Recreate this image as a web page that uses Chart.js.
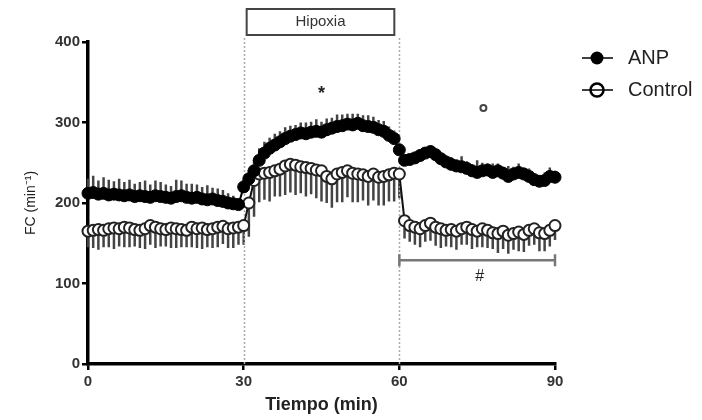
<!DOCTYPE html>
<html>
<head>
<meta charset="utf-8">
<script src="https://cdn.jsdelivr.net/npm/chart.js@4.4.1/dist/chart.umd.min.js"></script>
<style>
  html, body { margin: 0; padding: 0; background: #fff; }
  #wrap { width: 702px; height: 420px; position: relative; }
</style>
</head>
<body>
<div id="wrap"><canvas id="fcChart" width="702" height="420"></canvas></div>
<script>
// minutes 0..90, one point per minute
const minutes = [];
for (let m = 0; m <= 90; m++) minutes.push(m);

const anpMean = [
  212, 213, 211, 212, 210, 211, 210, 209, 210, 208,
  209, 208, 207, 209, 208, 207, 206, 208, 209, 207,
  206, 207, 205, 204, 205, 203, 202, 200, 199, 198,
  220, 230, 240, 253, 262, 268, 272, 276, 280, 283,
  285, 287, 286, 288, 289, 288, 291, 293, 295, 296,
  298, 297, 299, 296, 295, 294, 291, 289, 284, 280,
  266, 253, 254, 256, 259, 262, 264, 260, 255, 251,
  248, 246, 245, 243, 240, 238, 240, 241, 238, 240,
  237, 233, 236, 238, 236, 233, 229, 227, 228, 233,
  232
];
const anpSem = [
  18, 21, 17, 20, 19, 16, 20, 17, 19, 16,
  17, 20, 16, 19, 18, 16, 15, 21, 19, 17,
  18, 16, 15, 18, 14, 15, 14, 12, 10, 8,
  9, 11, 13, 15, 14, 13, 14, 13, 14, 13,
  12, 13, 14, 13, 15, 13, 14, 13, 15, 14,
  13, 14, 12, 13, 14, 13, 12, 13, 11, 10,
  8, 6, 7, 6, 7, 6, 7, 8, 7, 8,
  9, 8, 13, 9, 8, 15, 10, 8, 11, 9,
  8, 13, 9, 11, 8, 10, 8, 7, 10, 11,
  8
];
const ctrlMean = [
  165, 166, 167, 166, 168, 169, 168, 170, 169, 167,
  166, 168, 172, 170, 168, 167, 169, 168, 167, 166,
  170, 168, 169, 167, 168, 170, 171, 168, 169, 170,
  172, 200, 228, 236, 237, 238, 240, 242, 246, 248,
  247, 245, 244, 243, 241, 240, 233, 230, 236, 238,
  240, 237, 236, 235, 233, 236, 232, 233, 235, 237,
  236, 178, 172, 170, 168, 172, 175, 170, 168, 166,
  167, 165, 168, 170, 167, 165, 168, 166, 163, 162,
  165, 160, 162, 164, 161, 166, 168, 163, 162, 166,
  172
];
const ctrlSem = [
  20, 22, 25, 21, 23, 26, 22, 25, 24, 21,
  22, 25, 24, 26, 22, 21, 25, 24, 22, 21,
  25, 24, 26, 22, 24, 25, 22, 24, 25, 22,
  24, 42, 45, 35, 33, 36, 32, 34, 36, 35,
  37, 33, 36, 32, 35, 38, 33, 36, 35, 37,
  33, 36, 35, 32, 36, 33, 35, 36, 33, 35,
  30, 22, 20, 22, 23, 20, 22, 23, 24, 20,
  22, 23, 20, 22, 24, 20, 23, 22, 20, 24,
  22, 23, 20, 24, 22, 19, 20, 23, 22, 20,
  18
];

const yTicks = [0, 100, 200, 300, 400];
const xTicks = [0, 30, 60, 90];
const hypoxia = [30, 60];

const FONT = 'Arial, "Liberation Sans", sans-serif';

function toXY(ys) {
  return minutes.map((m, i) => ({ x: m, y: ys[i] }));
}

// error bars: ANP drawn up, Control drawn down
const errorBars = {
  id: 'errorBars',
  beforeDatasetsDraw(chart) {
    const { ctx, scales: { x, y } } = chart;
    ctx.save();
    ctx.strokeStyle = '#444';
    ctx.lineWidth = 2.5;
    ctx.beginPath();
    minutes.forEach((m, i) => {
      const px = x.getPixelForValue(m);
      ctx.moveTo(px, y.getPixelForValue(anpMean[i]));
      ctx.lineTo(px, y.getPixelForValue(anpMean[i] + anpSem[i]));
      ctx.moveTo(px, y.getPixelForValue(ctrlMean[i]));
      ctx.lineTo(px, y.getPixelForValue(ctrlMean[i] - ctrlSem[i]));
    });
    ctx.stroke();
    ctx.restore();
  }
};

// hypoxia box, dotted lines, significance marks, legend
const extras = {
  id: 'extras',
  beforeDatasetsDraw(chart) {
    const { ctx, chartArea, scales: { x } } = chart;
    ctx.save();
    ctx.strokeStyle = '#aaa';
    ctx.lineWidth = 1.5;
    ctx.setLineDash([2, 2]);
    hypoxia.forEach(v => {
      const px = Math.round(x.getPixelForValue(v)) + 0.5;
      ctx.beginPath();
      ctx.moveTo(px, 38);
      ctx.lineTo(px, chartArea.bottom);
      ctx.stroke();
    });
    ctx.restore();
  },
  afterDraw(chart) {
    const { ctx, scales: { x, y } } = chart;
    ctx.save();
    // Hipoxia box
    const bx0 = x.getPixelForValue(hypoxia[0]) + 3;
    const bx1 = x.getPixelForValue(hypoxia[1]) - 5;
    ctx.strokeStyle = '#444';
    ctx.lineWidth = 2;
    ctx.strokeRect(bx0, 9, bx1 - bx0, 26);
    ctx.fillStyle = '#333';
    ctx.font = '15px ' + FONT;
    ctx.textAlign = 'center';
    ctx.textBaseline = 'middle';
    ctx.fillText('Hipoxia', (bx0 + bx1) / 2, 22);

    // significance marks
    ctx.fillStyle = '#222';
    ctx.font = 'bold 18px ' + FONT;
    ctx.fillText('*', x.getPixelForValue(45), y.getPixelForValue(335));
    ctx.strokeStyle = '#444';
    ctx.lineWidth = 2;
    ctx.beginPath();
    ctx.arc(x.getPixelForValue(76.2), y.getPixelForValue(318), 3, 0, Math.PI * 2);
    ctx.stroke();

    // bracket with #
    const gx0 = x.getPixelForValue(60), gx1 = x.getPixelForValue(90);
    const gy = y.getPixelForValue(129);
    ctx.strokeStyle = '#777';
    ctx.lineWidth = 2.5;
    ctx.beginPath();
    ctx.moveTo(gx0, gy); ctx.lineTo(gx1, gy);
    ctx.moveTo(gx0, gy - 6); ctx.lineTo(gx0, gy + 6);
    ctx.moveTo(gx1, gy - 6); ctx.lineTo(gx1, gy + 6);
    ctx.stroke();
    ctx.fillStyle = '#222';
    ctx.font = '16px ' + FONT;
    ctx.fillText('#', x.getPixelForValue(75.5), gy + 16);

    // legend
    const items = [
      { label: 'ANP', fill: true, yy: 58 },
      { label: 'Control', fill: false, yy: 90 }
    ];
    items.forEach(it => {
      ctx.strokeStyle = '#000';
      ctx.lineWidth = 1.5;
      ctx.beginPath();
      ctx.moveTo(582, it.yy); ctx.lineTo(613, it.yy);
      ctx.stroke();
      ctx.beginPath();
      ctx.arc(597, it.yy, 6.5, 0, Math.PI * 2);
      if (it.fill) { ctx.fillStyle = '#000'; ctx.fill(); }
      else { ctx.lineWidth = 2.5; ctx.stroke(); }
      ctx.fillStyle = '#222';
      ctx.font = '20px ' + FONT;
      ctx.textAlign = 'left';
      ctx.fillText(it.label, 628, it.yy);
    });
    ctx.restore();
  }
};

const ctx = document.getElementById('fcChart').getContext('2d');
const fcChart = new Chart(ctx, {
  type: 'line',
  data: {
    datasets: [
      {
        label: 'ANP',
        data: toXY(anpMean),
        borderColor: '#000',
        borderWidth: 2,
        backgroundColor: '#000',
        pointBackgroundColor: '#000',
        pointBorderColor: '#000',
        pointRadius: 6,
        pointBorderWidth: 1,
        tension: 0,
        clip: false
      },
      {
        label: 'Control',
        data: toXY(ctrlMean),
        borderColor: '#111',
        borderWidth: 2,
        pointBackgroundColor: '#fff',
        pointBorderColor: '#222',
        pointRadius: 5.5,
        pointBorderWidth: 2,
        tension: 0,
        clip: false
      }
    ]
  },
  options: {
    responsive: false,
    animation: false,
    layout: { padding: { top: 42, right: 147, left: 0, bottom: 0 } },
    plugins: {
      legend: { display: false },
      tooltip: { enabled: false }
    },
    scales: {
      x: {
        type: 'linear',
        min: 0,
        max: 90,
        afterBuildTicks: s => { s.ticks = xTicks.map(v => ({ value: v })); },
        afterFit: s => { s.height = 56; },
        grid: { drawOnChartArea: false, color: '#000', lineWidth: 2.5, tickLength: 6 },
        border: { color: '#000', width: 3.5 },
        ticks: { color: '#333', font: { family: FONT, size: 15, weight: 'bold' }, padding: 3 },
        title: { display: true, text: 'Tiempo (min)', color: '#222', font: { family: FONT, size: 18, weight: 'bold' }, padding: { top: 4 } }
      },
      y: {
        min: 0,
        max: 400,
        afterBuildTicks: s => { s.ticks = yTicks.map(v => ({ value: v })); },
        afterFit: s => { s.width = 88; },
        grid: { drawOnChartArea: false, color: '#000', lineWidth: 2.5, tickLength: 6 },
        border: { color: '#000', width: 3.5 },
        ticks: { color: '#333', font: { family: FONT, size: 15, weight: 'bold' }, padding: 2 },
        title: { display: true, text: 'FC (min⁻¹)', color: '#222', font: { family: FONT, size: 14 }, padding: { top: 23 } }
      }
    }
  },
  plugins: [errorBars, extras]
});
</script>
</body>
</html>
